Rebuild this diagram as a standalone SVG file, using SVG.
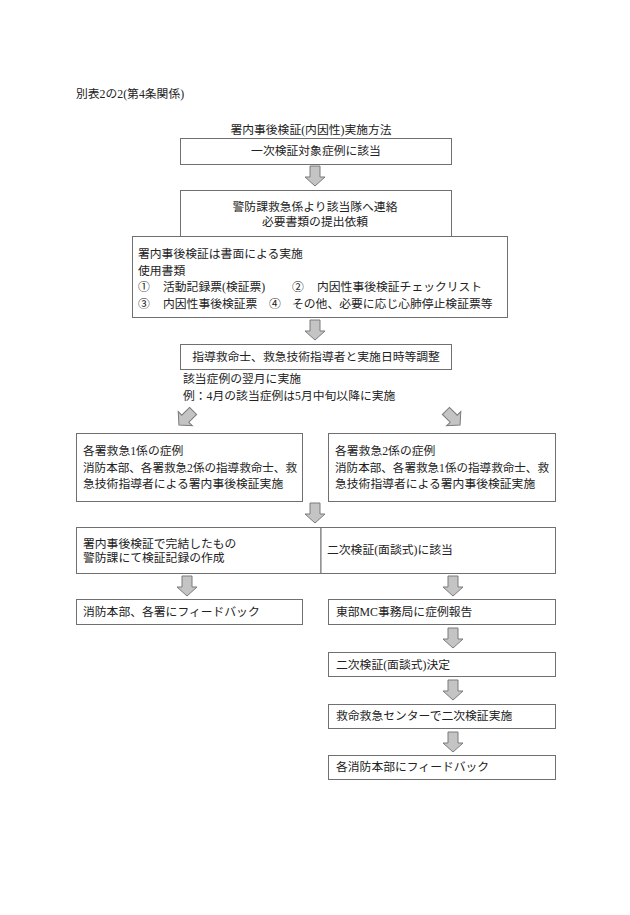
<svg xmlns="http://www.w3.org/2000/svg" width="630" height="915" viewBox="0 0 630 915">
<defs>
<style>
text{font-family:"Liberation Serif","Noto Sans CJK JP",serif;font-size:11.8px;fill:#222}
.c{text-anchor:middle}
.box{fill:#fff;stroke:#707070;stroke-width:1}
.arr{fill:#c4c4c4;stroke:#7a7a7a;stroke-width:1}
</style>
<path id="arrow" d="M-5,-10 L5,-10 L5,1 L10,1 L0,10 L-10,1 L-5,1 Z"/>
</defs>
<rect width="630" height="915" fill="#fff"/>
<text x="76" y="98">別表2の2(第4条関係)</text>
<text class="c" x="311" y="134">署内事後検証(内因性)実施方法</text>

<g id="connectors">
<use href="#arrow" class="arr" transform="translate(315,176)"/>
<use href="#arrow" class="arr" transform="translate(315,330)"/>
<use href="#arrow" class="arr" transform="translate(186,418) rotate(45)"/>
<use href="#arrow" class="arr" transform="translate(453,418) rotate(-45)"/>
<use href="#arrow" class="arr" transform="translate(315,513)"/>
<use href="#arrow" class="arr" transform="translate(187,586)"/>
<use href="#arrow" class="arr" transform="translate(453,586)"/>
<use href="#arrow" class="arr" transform="translate(453,638)"/>
<use href="#arrow" class="arr" transform="translate(453,690)"/>
<use href="#arrow" class="arr" transform="translate(453,742)"/>
</g>

<g id="n1"><rect class="box" x="180.5" y="138.5" width="271" height="26"/>
<text class="c" x="316" y="155">一次検証対象症例に該当</text></g>

<g id="n2"><rect class="box" x="180.5" y="190.5" width="271" height="46"/>
<text class="c" x="315" y="211">警防課救急係より該当隊へ連絡</text>
<text class="c" x="315" y="226">必要書類の提出依頼</text></g>

<g id="n3"><rect class="box" x="132.5" y="236.5" width="375" height="81"/>
<text x="138" y="258">署内事後検証は書面による実施</text>
<text x="138" y="275">使用書類</text>
<text x="138" y="291">①</text><text x="163" y="291">活動記録票(検証票)</text>
<text x="292" y="291">②</text><text x="317" y="291">内因性事後検証チェックリスト</text>
<text x="138" y="308">③</text><text x="163" y="308">内因性事後検証票</text>
<text x="269" y="308">④</text><text x="292" y="308">その他、必要に応じ心肺停止検証票等</text></g>

<g id="n4"><rect class="box" x="180.5" y="344.5" width="271" height="25"/>
<text class="c" x="316" y="361">指導救命士、救急技術指導者と実施日時等調整</text></g>

<g id="note">
<text x="183" y="383">該当症例の翌月に実施</text>
<text x="183" y="400">例：4月の該当症例は5月中旬以降に実施</text></g>

<g id="n5a"><rect class="box" x="76.5" y="433.5" width="226" height="68"/>
<text x="83" y="455">各署救急1係の症例</text>
<text x="83" y="472" textLength="214" lengthAdjust="spacingAndGlyphs">消防本部、各署救急2係の指導救命士、救</text>
<text x="83" y="488">急技術指導者による署内事後検証実施</text></g>

<g id="n5b"><rect class="box" x="328.5" y="433.5" width="227" height="68"/>
<text x="335" y="455">各署救急2係の症例</text>
<text x="335" y="472" textLength="214" lengthAdjust="spacingAndGlyphs">消防本部、各署救急1係の指導救命士、救</text>
<text x="335" y="488">急技術指導者による署内事後検証実施</text></g>

<g id="n6a"><rect class="box" x="76.5" y="527.5" width="244.5" height="46"/>
<text x="83" y="548">署内事後検証で完結したもの</text>
<text x="83" y="562">警防課にて検証記録の作成</text></g>

<g id="n6b"><rect class="box" x="321" y="527.5" width="234.5" height="46"/>
<text x="327" y="554">二次検証(面談式)に該当</text></g>

<g id="n7a"><rect class="box" x="76.5" y="599.5" width="226" height="25"/>
<text x="83" y="616">消防本部、各署にフィードバック</text></g>

<g id="n7b"><rect class="box" x="328.5" y="599.5" width="227" height="25"/>
<text x="336" y="616">東部MC事務局に症例報告</text></g>

<g id="n8"><rect class="box" x="328.5" y="652.5" width="227" height="24"/>
<text x="336" y="669">二次検証(面談式)決定</text></g>

<g id="n9"><rect class="box" x="328.5" y="704.5" width="227" height="24"/>
<text x="336" y="720">救命救急センターで二次検証実施</text></g>

<g id="n10"><rect class="box" x="328.5" y="755.5" width="227" height="24"/>
<text x="336" y="771">各消防本部にフィードバック</text></g>
</svg>
